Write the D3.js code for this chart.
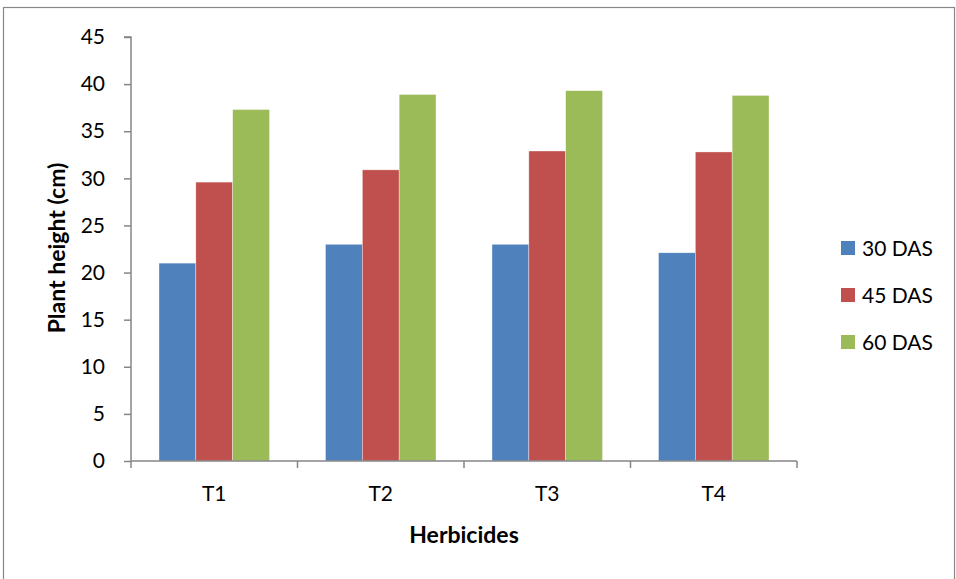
<!DOCTYPE html>
<html><head><meta charset="utf-8">
<script src="https://cdn.jsdelivr.net/npm/d3@7"></script>
<style>body{margin:0;background:#fff}svg{display:block}text{font-family:Lato,"Open Sans",sans-serif}</style>
</head><body><svg id="c" width="956" height="579"></svg>
<script>
const categories = ["T1","T2","T3","T4"];
const seriesNames = ["30 DAS","45 DAS","60 DAS"];
const das30 = [21.0, 23.0, 23.0, 22.1];
const das45 = [29.6, 30.9, 32.9, 32.8];
const das60 = [37.3, 38.9, 39.3, 38.8];
const yTicks = [0,5,10,15,20,25,30,35,40,45];
const colors = ["#4F81BD","#C0504D","#9BBB59"];
const seriesValues = [das30, das45, das60];

const svg = d3.select("#c");
const axisCol = "#868686";
svg.append("rect").attr("x",3.5).attr("y",7.5).attr("width",951).attr("height",600)
  .attr("fill","none").attr("stroke","#888").attr("stroke-width",1.2);

const pL=131, pR=797, pT=37, pB=461;
const x = d3.scaleBand().domain(categories).range([pL,pR]).paddingInner(0).paddingOuter(0);
const y = d3.scaleLinear().domain([0,45]).range([pB,pT]);
const inner = d3.scaleBand().domain(seriesNames).range([0,x.bandwidth()]).paddingInner(0).paddingOuter(0.76);

const g = svg.append("g");
seriesNames.forEach((s,si)=>{
  g.selectAll(null).data(categories).enter().append("rect")
    .attr("x",c=>x(c)+inner(s))
    .attr("y",(c,i)=>y(seriesValues[si][i]))
    .attr("width",inner.bandwidth())
    .attr("height",(c,i)=>y(0)-y(seriesValues[si][i]))
    .attr("fill",colors[si])
    .attr("stroke","rgba(255,255,255,0.6)").attr("stroke-width",0.6);
});

// y axis
const ya = svg.append("g").attr("transform",`translate(${pL},0)`)
  .call(d3.axisLeft(y).tickValues(yTicks).tickSize(7).tickPadding(19));
ya.select(".domain").attr("stroke",axisCol).attr("stroke-width",1.5).attr("d",`M-7,${pT}H0V${pB}`);
ya.selectAll(".tick line").attr("stroke",axisCol).attr("stroke-width",1.5);
ya.selectAll(".tick text").attr("font-size",21).attr("fill","#000").style("font-family","Lato,sans-serif");

// x axis
const xa = svg.append("g").attr("transform",`translate(0,${pB})`)
  .call(d3.axisBottom(x).tickSize(0).tickPadding(25));
xa.select(".domain").attr("stroke",axisCol).attr("stroke-width",1.5).attr("d",`M${pL},0H${pR}`);
xa.selectAll(".tick text").attr("font-size",21).attr("fill","#000").style("font-family","Lato,sans-serif");
const xt = [pL, ...categories.map(c=>x(c)+x.bandwidth())];
svg.selectAll(null).data(xt).enter().append("line")
  .attr("x1",d=>d).attr("x2",d=>d).attr("y1",pB).attr("y2",pB+7)
  .attr("stroke",axisCol).attr("stroke-width",1.5);

// titles
svg.append("text").attr("x",(pL+pR)/2).attr("y",543).attr("text-anchor","middle")
  .attr("font-size",23).attr("font-weight","bold").text("Herbicides");
svg.append("text").attr("transform",`translate(65,248) rotate(-90)`)
  .attr("text-anchor","middle").attr("font-size",23).attr("font-weight","bold").text("Plant height (cm)");

// legend
const lg = svg.append("g");
seriesNames.forEach((s,i)=>{
  const cy = 248 + i*47;
  lg.append("rect").attr("x",841).attr("y",cy-7).attr("width",14).attr("height",14).attr("fill",colors[i]);
  lg.append("text").attr("x",862).attr("y",cy).attr("dy","0.36em").attr("font-size",21).text(s);
});
</script></body></html>
